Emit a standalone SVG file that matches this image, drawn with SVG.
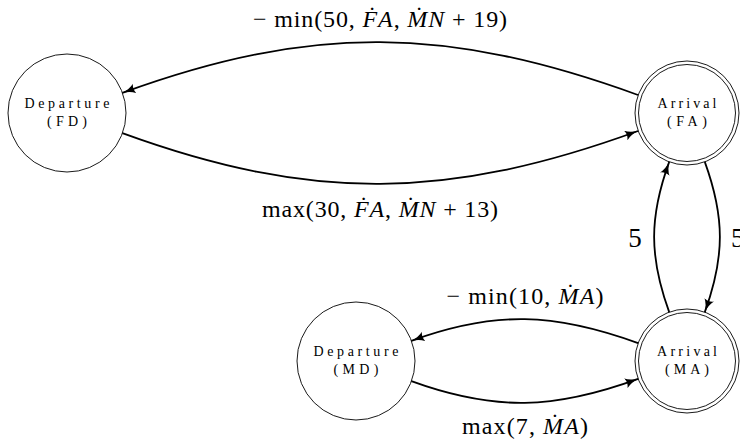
<svg xmlns="http://www.w3.org/2000/svg" width="740" height="440" viewBox="0 0 740 440">
<style>
.node{fill:#fff;stroke:#000;stroke-width:0.9}
.nt{font-family:"Liberation Serif",serif;font-size:14px;fill:#000;text-anchor:middle}
.edge{fill:none;stroke:#000;stroke-width:1.8}
.lbl{font-family:"Liberation Serif",serif;font-size:24px;fill:#000;text-anchor:middle}
.it{font-style:italic}
.five{font-family:"Liberation Serif",serif;font-size:27px;fill:#000}
</style>
<defs>
<marker id="arr" markerUnits="userSpaceOnUse" markerWidth="16" markerHeight="12" refX="13" refY="5" orient="auto">
<path d="M0,0 Q5,4 13.5,5 Q5,6 0,10 Q2.5,5 0,0 Z" fill="#000"/>
</marker>
</defs>
<rect width="740" height="440" fill="#fff"/>
<g id="FD">
<circle class="node" cx="67" cy="113" r="59"/>
<text class="nt" x="67" y="108" textLength="85" lengthAdjust="spacing">Departure</text>
<text class="nt" x="67" y="126" textLength="40" lengthAdjust="spacing">(FD)</text>
</g>
<g id="FA">
<circle class="node" cx="687" cy="113" r="52"/>
<circle class="node" cx="687" cy="113" r="48.5"/>
<text class="nt" x="687" y="108" textLength="59" lengthAdjust="spacing">Arrival</text>
<text class="nt" x="687" y="126" textLength="40" lengthAdjust="spacing">(FA)</text>
</g>
<g id="MD">
<circle class="node" cx="356" cy="361" r="59"/>
<text class="nt" x="356" y="356" textLength="85" lengthAdjust="spacing">Departure</text>
<text class="nt" x="356" y="374" textLength="45" lengthAdjust="spacing">(MD)</text>
</g>
<g id="MA">
<circle class="node" cx="687" cy="361" r="52"/>
<circle class="node" cx="687" cy="361" r="48.5"/>
<text class="nt" x="687" y="356" textLength="60" lengthAdjust="spacing">Arrival</text>
<text class="nt" x="687" y="374" textLength="44" lengthAdjust="spacing">(MA)</text>
</g>
<g id="edges">
<path class="edge" marker-end="url(#arr)" d="M638,95 C448,26 312,23.7 122.4,92.8"/>
<path class="edge" marker-end="url(#arr)" d="M122.4,133.2 C312,202.3 448,200 638,131"/>
<path class="edge" marker-end="url(#arr)" d="M669.2,312.1 C649.1,256.8 649.1,217.2 669.2,161.9"/>
<path class="edge" marker-end="url(#arr)" d="M704.8,161.9 C724.9,217.2 724.9,256.8 704.8,312.1"/>
<path class="edge" marker-end="url(#arr)" d="M638.1,343.2 C554.7,312.8 494.8,310.4 411.4,340.8"/>
<path class="edge" marker-end="url(#arr)" d="M411.4,381.2 C494.8,411.6 554.7,409.2 638.1,378.8"/>
</g>
<g id="labels">
<text class="lbl" x="380" y="27" textLength="254" lengthAdjust="spacing">− min(50, <tspan class="it">F&#x307;A</tspan>, <tspan class="it">M&#x307;N</tspan> + 19)</text>
<text class="lbl" x="380" y="217" textLength="236" lengthAdjust="spacing">max(30, <tspan class="it">F&#x307;A</tspan>, <tspan class="it">M&#x307;N</tspan> + 13)</text>
<text class="lbl" x="525" y="304" textLength="157" lengthAdjust="spacing">− min(10, <tspan class="it">M&#x307;A</tspan>)</text>
<text class="lbl" x="525" y="434" textLength="126" lengthAdjust="spacing">max(7, <tspan class="it">M&#x307;A</tspan>)</text>
<text class="five" x="635" y="247" text-anchor="middle">5</text>
<text class="five" x="731" y="247">5</text>
</g>
</svg>
